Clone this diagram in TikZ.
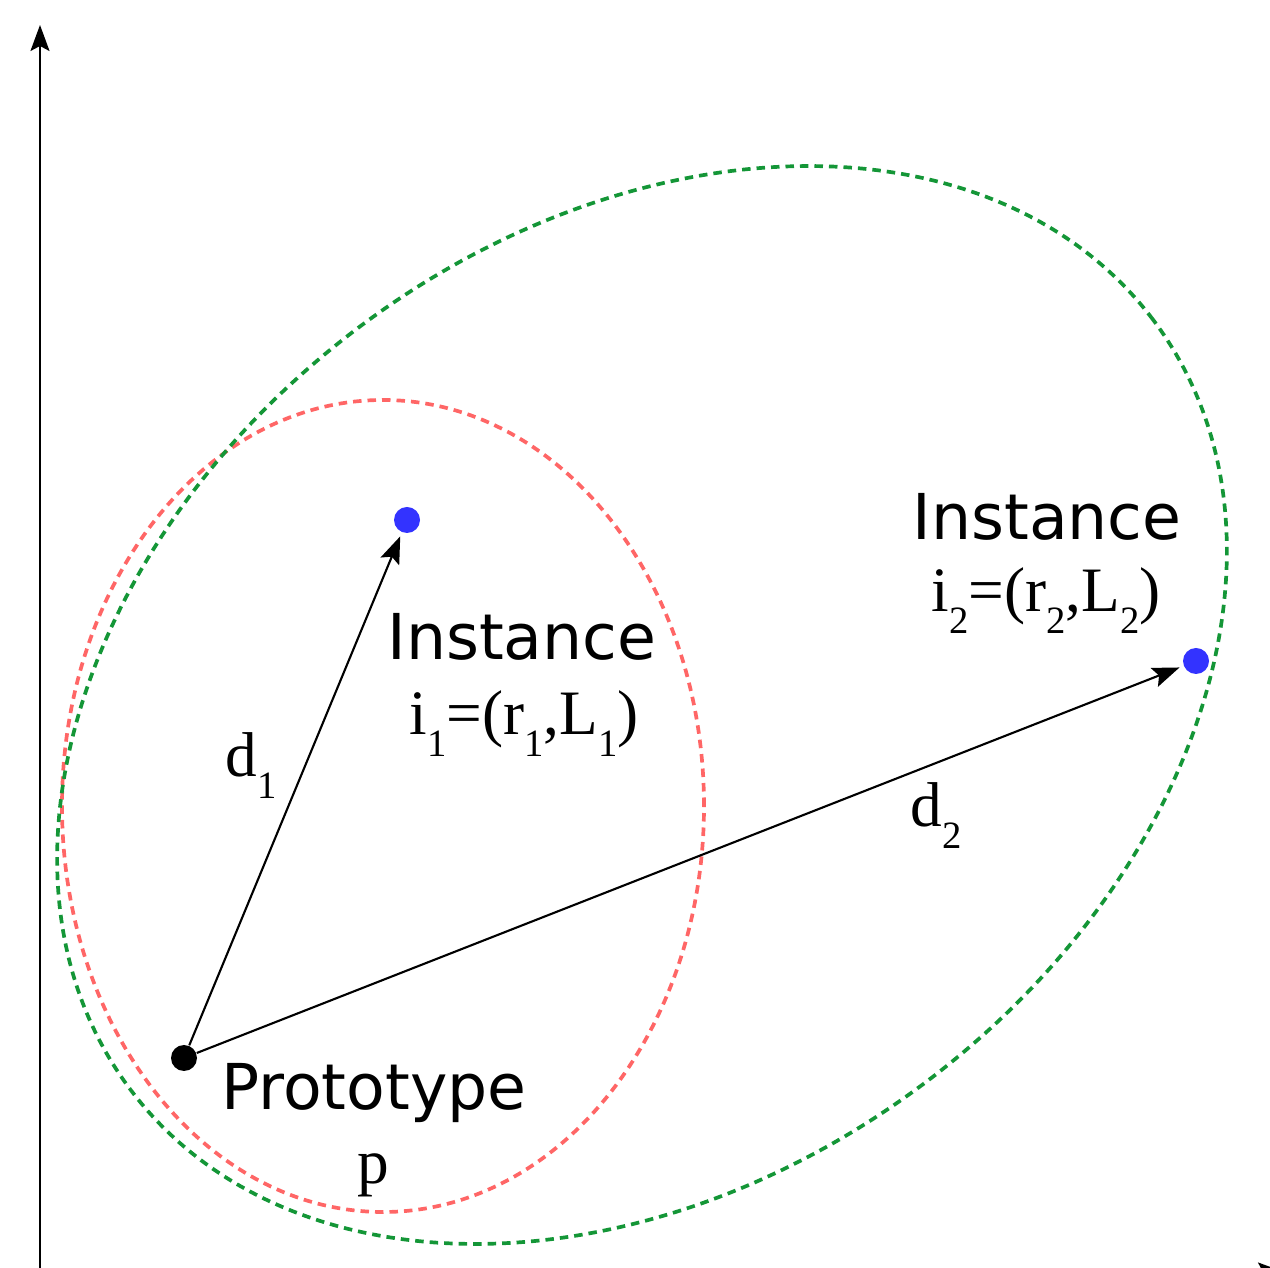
\documentclass[tikz,border=0pt]{standalone}
\usepackage{fontspec}
\setmainfont{Liberation Serif}
\setsansfont{DejaVu Sans}
\usepackage{tikz}
\usetikzlibrary{arrows.meta,positioning,calc}

\definecolor{outergreen}{RGB}{20,150,55}
\newcommand{\lowsub}[1]{\raisebox{-0.75ex}{\fontsize{11}{11}\selectfont #1}}

\tikzset{
  axis/.style={line width=0.6pt, -{Stealth[length=0.26cm, width=0.19cm, inset=0.05cm]}},
  vec/.style={line width=0.6pt, -{Stealth[length=0.27cm, width=0.2cm, inset=0.05cm]}, shorten >=0.04cm},
  region/.style={line width=1.05pt, dash pattern=on 0.085cm off 0.06cm},
  protodot/.style={circle, fill=black, inner sep=0pt, minimum size=0.26cm},
  instdot/.style={circle, fill=blue!80, inner sep=0pt, minimum size=0.26cm},
  word/.style={font=\sffamily\fontsize{18}{22}\selectfont, inner sep=0pt},
  formula/.style={font=\rmfamily\fontsize{18}{22}\selectfont, inner sep=0pt}
}

\begin{document}
\begin{tikzpicture}
  \useasboundingbox (0,0) rectangle (12.70,12.67);
  \clip (0,0) rectangle (12.70,12.67);

  % axes
  \coordinate (origin) at (0.40,-0.05);
  \coordinate (ytop) at (0.40,12.42);
  \coordinate (xend) at (12.84,-0.05);
  \draw[axis] (0.40,-0.2) -- (ytop);
  \draw[axis] (origin) -- (xend);

  % neighbourhoods
  \draw[region, red!60] (3.83,4.61) ellipse (3.21 and 4.06);
  \draw[region, outergreen, rotate around={37:(6.42,5.62)}]
    (6.42,5.62) ellipse (6.40 and 4.72);

  % points
  \node[protodot] (p) at (1.84,2.09) {};
  \node[instdot] (i1) at (4.07,7.47) {};
  \node[instdot] (i2) at (11.96,6.06) {};

  \draw[vec] (p) -- (i1);
  \draw[vec] (p) -- (i2);

  % labels
  \node[word, anchor=base] (inst1) at (5.22,6.07) {Instance};
  \node[formula, anchor=base] (tup1) at (5.24,5.32)
    {i\lowsub{1}=(r\lowsub{1},L\lowsub{1})};
  \node[word, anchor=base] (inst2) at (10.47,7.27) {Instance};
  \node[formula, anchor=base] (tup2) at (10.46,6.55)
    {i\lowsub{2}=(r\lowsub{2},L\lowsub{2})};
  \node[formula, anchor=base west] (d1) at (2.25,4.90) {d\lowsub{1}};
  \node[formula, anchor=base west] (d2) at (9.10,4.40) {d\lowsub{2}};
  \node[word, anchor=base] (proto) at (3.74,1.57) {Prototype};
  \node[formula, anchor=base] (pname) at (3.73,0.84) {p};
\end{tikzpicture}
\end{document}
